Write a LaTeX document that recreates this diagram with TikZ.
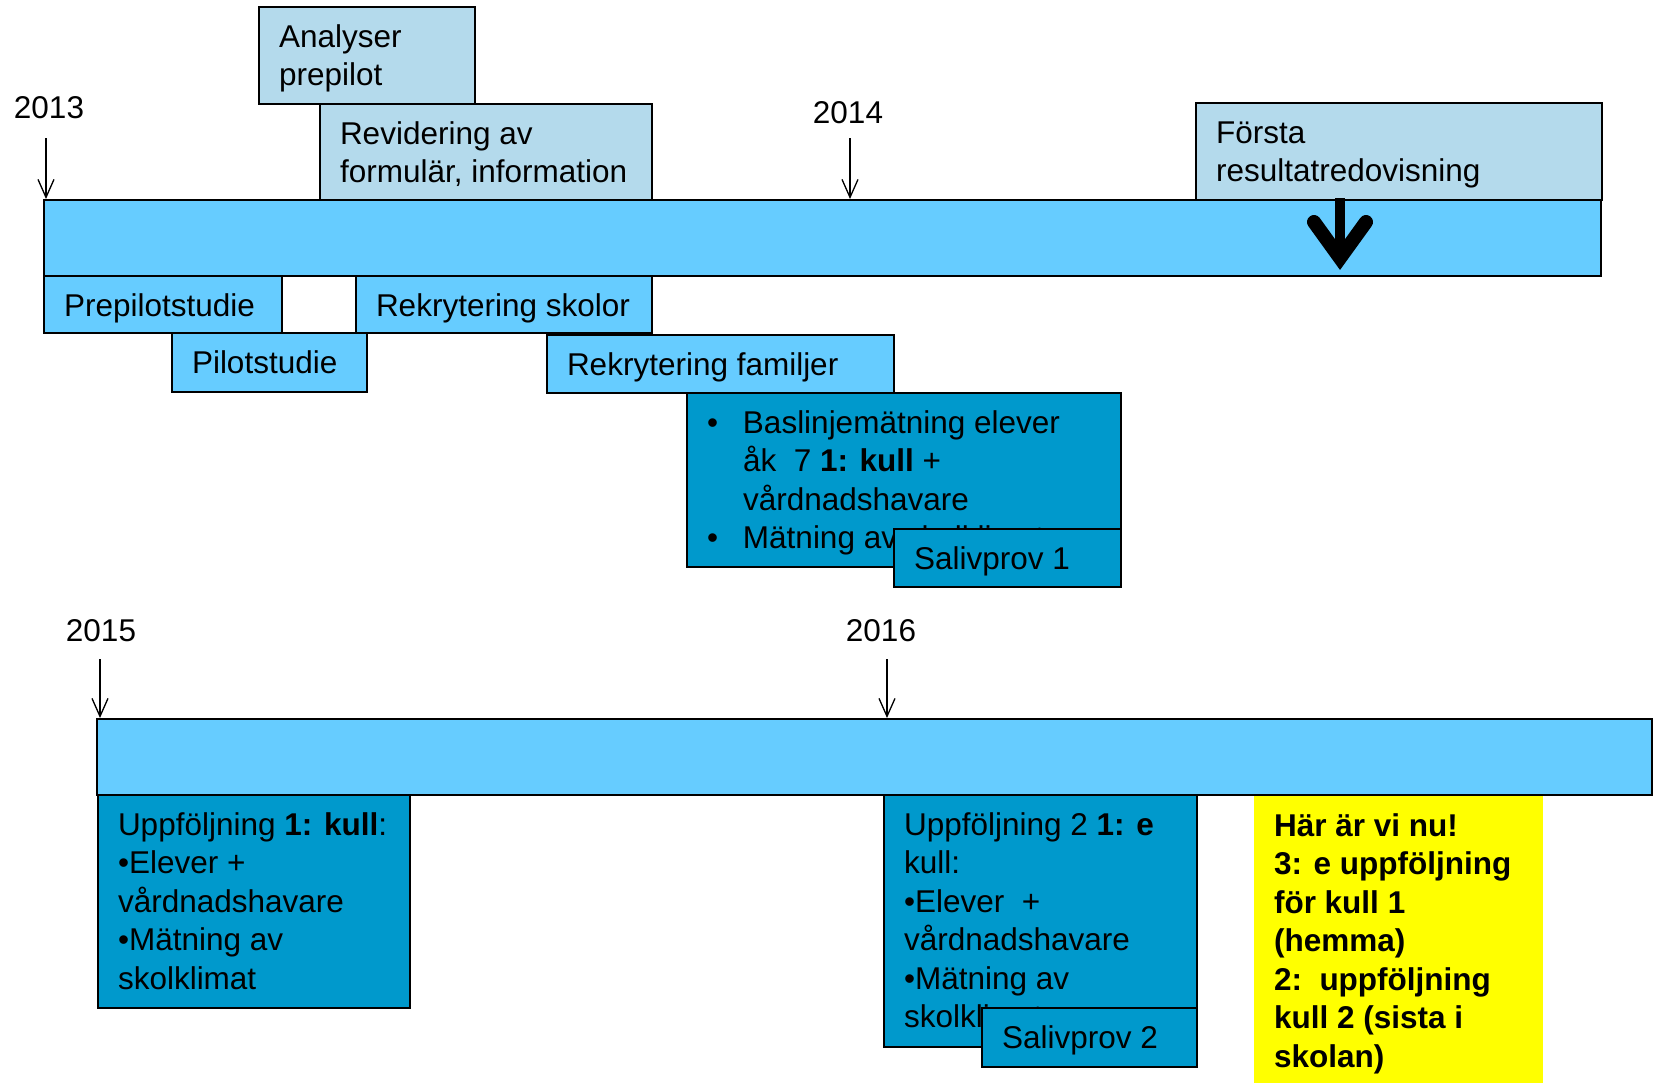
\documentclass[tikz,border=0pt]{standalone}
\usepackage{fontspec}
\setmainfont{Liberation Sans}
\usetikzlibrary{arrows.meta}
\definecolor{lightb}{HTML}{B4DAEC}
\definecolor{midb}{HTML}{66CCFF}
\definecolor{darkb}{HTML}{0099CC}
\definecolor{ylw}{HTML}{FFFF00}
\newcommand{\mystrut}{\rule{0pt}{27pt}}
% name, style, x, y, width, height, text
\newcommand{\tlbox}[7]{%
  \node[boxsty,#2,minimum width=#5pt,minimum height=#6pt,anchor=north west] (#1) at (#3,#4) {};
  \node[txt,anchor=north west] (#1-t) at ([shift={(20,13)}]#1.north west) {\mystrut#7};
}
\begin{document}
\begin{tikzpicture}[x=1pt,y=-1pt,
  boxsty/.style={draw=black,line width=1.5pt,inner sep=0pt,outer sep=0pt},
  lightbox/.style={fill=lightb},
  midbox/.style={fill=midb},
  darkbox/.style={fill=darkb},
  yelbox/.style={fill=ylw,draw=none},
  txt/.style={inner sep=0pt,outer sep=0pt,align=left,font=\fontsize{31.5}{38.5}\selectfont},
  yarr/.style={line width=1.3pt,-{Straight Barb[length=18pt,width=16pt,line width=1.3pt]}},
]
\useasboundingbox (0,0) rectangle (1655,1082);
\fill[white] (0,0) rectangle (1655,1082);

% ---------- upper timeline ----------
\tlbox{bar1}{midbox}{44}{200}{1557}{76}{}
\tlbox{an}{lightbox}{259}{7}{216}{97}{Analyser\\prepilot}
\tlbox{rev}{lightbox}{320}{104}{332}{96}{Revidering av\\formulär, information}
\tlbox{forsta}{lightbox}{1196}{103}{406}{97}{Första\\resultatredovisning}

\tlbox{pre}{midbox}{44}{276}{238}{57}{Prepilotstudie}
\tlbox{pil}{midbox}{172}{333}{195}{59}{Pilotstudie}
\tlbox{rsk}{midbox}{356}{276}{296}{57}{Rekrytering skolor}
\tlbox{rfa}{midbox}{547}{335}{347}{58}{Rekrytering familjer}
\tlbox{bas}{darkbox}{687}{393}{434}{174}{\makebox[36pt][l]{•}Baslinjemätning elever\\\hspace*{36pt}åk\ \ 7 \textbf{1: kull} +\\\hspace*{36pt}vårdnadshavare\\\makebox[36pt][l]{•}Mätning av skolklimat}
\tlbox{sal1}{darkbox}{894}{529}{227}{58}{Salivprov 1}

\node[txt,anchor=base] (y2013) at (49,118) {2013};
\node[txt,anchor=base] (y2014) at (848,123) {2014};
\coordinate (h13) at (46,199);
\coordinate (h14) at (850,199);
\draw[yarr] ([yshift=-20pt]y2013.south -| h13) -- (h13);
\draw[yarr] ([yshift=-15pt]y2014.south -| h14) -- (h14);

% thick arrow
\coordinate (ta) at (1340,198);
\coordinate (tb) at (1340,256);
\draw[line width=10pt] (ta) -- (tb);
\draw[line width=14pt,line cap=round,line join=miter] (1314,222) -- (1340,258) -- (1366,222);

% ---------- lower timeline ----------
\tlbox{bar2}{midbox}{97}{719}{1555}{76}{}
\tlbox{up1}{darkbox}{98}{795}{312}{213}{Uppföljning \textbf{1: kull}:\\•Elever +\\vårdnadshavare\\•Mätning av\\skolklimat}
\tlbox{up2}{darkbox}{884}{795}{313}{252}{Uppföljning 2 \textbf{1: e}\\kull:\\•Elever\ \ +\\vårdnadshavare\\•Mätning av\\skolklimat}
\tlbox{sal2}{darkbox}{982}{1008}{215}{59}{Salivprov 2}
\tlbox{yel}{yelbox}{1254}{796}{289}{290}{\textbf{Här är vi nu!}\\\textbf{3: e uppföljning}\\\textbf{för kull 1}\\\textbf{(hemma)}\\\textbf{2:\ \ uppföljning}\\\textbf{kull 2 (sista i}\\\textbf{skolan)}}

\node[txt,anchor=base] (y2015) at (101,641) {2015};
\node[txt,anchor=base] (y2016) at (881,641) {2016};
\coordinate (h15) at (100,718);
\coordinate (h16) at (887,718);
\draw[yarr] ([yshift=-18pt]y2015.south -| h15) -- (h15);
\draw[yarr] ([yshift=-18pt]y2016.south -| h16) -- (h16);
\end{tikzpicture}
\end{document}
